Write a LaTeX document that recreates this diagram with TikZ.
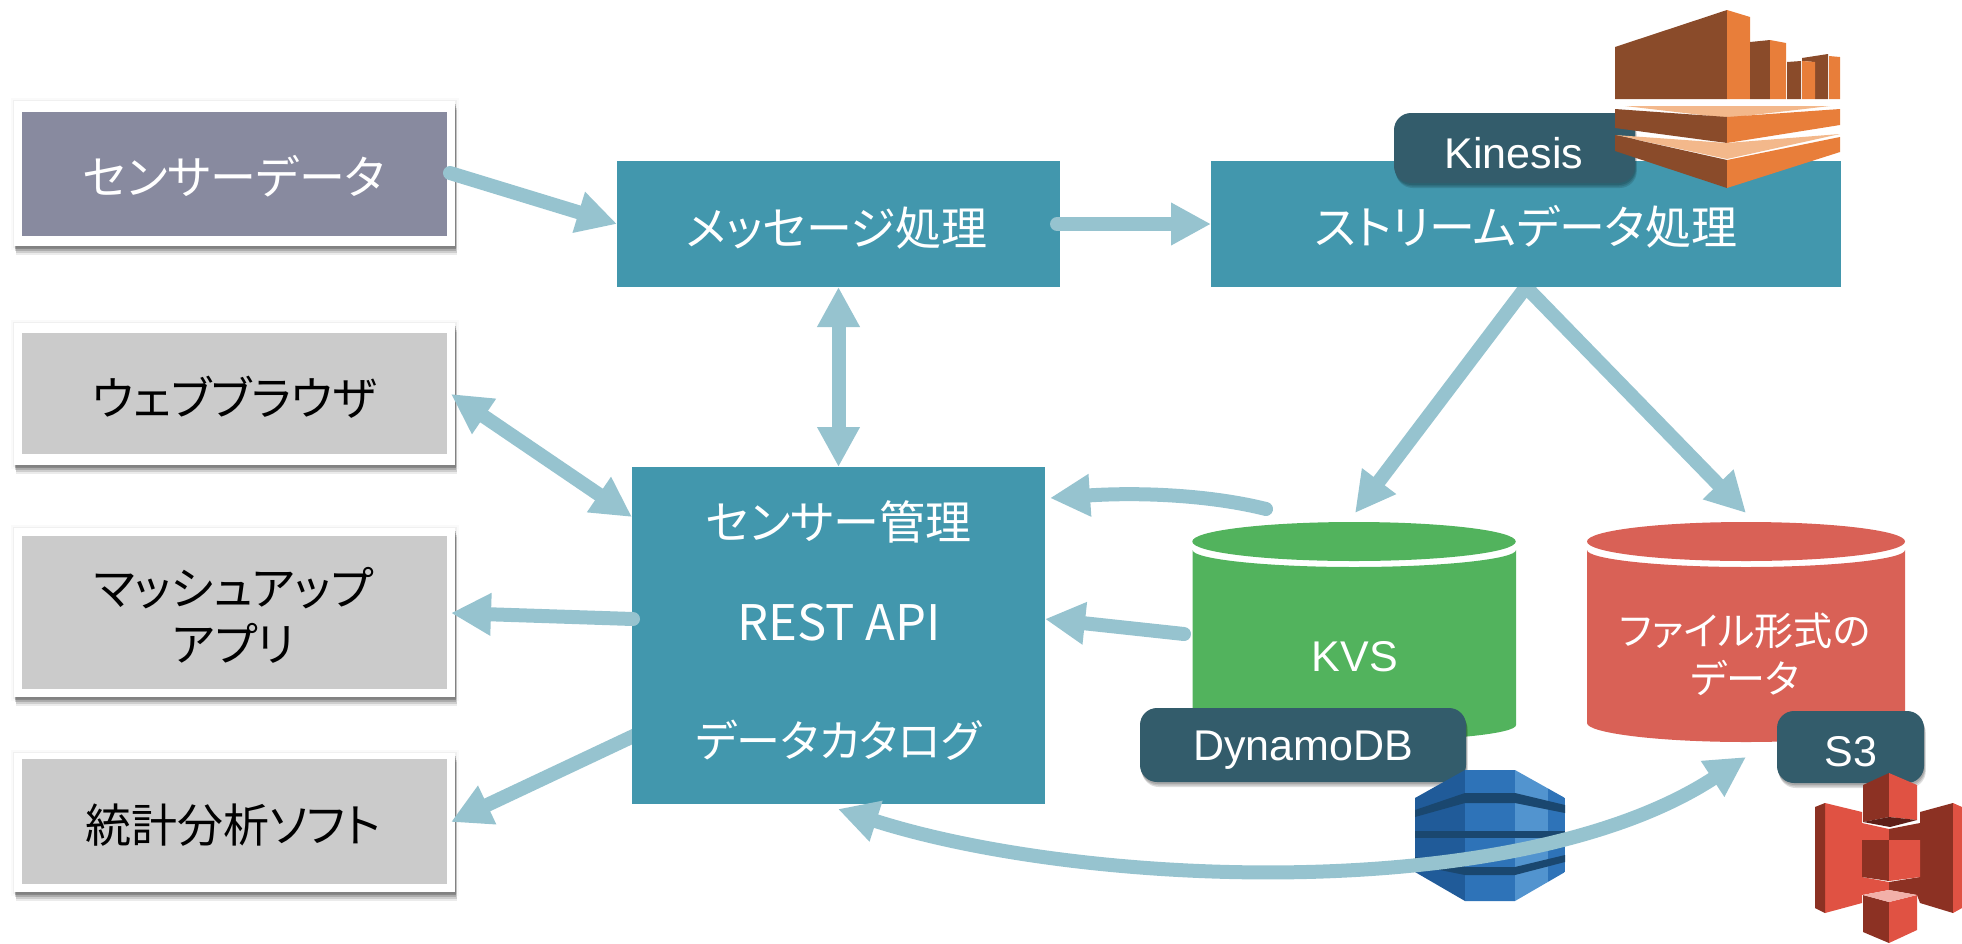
\documentclass[tikz,border=0pt]{standalone}
\usepackage{fontspec}
\setmainfont{Liberation Sans}
\newfontfamily\jpfont{Noto Sans CJK JP}[RawFeature=+palt]
\usetikzlibrary{arrows.meta,shapes.geometric}
\definecolor{tealc}{HTML}{4297AD}
\definecolor{arrowc}{HTML}{96C3CF}
\definecolor{labelc}{HTML}{335C6B}
\definecolor{greyc}{HTML}{CBCBCB}
\definecolor{sensorc}{HTML}{888A9F}
\definecolor{greenc}{HTML}{52B35D}
\definecolor{redc}{HTML}{D96156}
\definecolor{kbrown}{HTML}{8A4B2A}
\definecolor{korange}{HTML}{E87E3A}
\definecolor{klight}{HTML}{F3B88B}
\definecolor{dband}{HTML}{1A476F}
\definecolor{dleft}{HTML}{205B99}
\definecolor{dmid}{HTML}{2E73B8}
\definecolor{dright}{HTML}{5294CF}
\definecolor{sdark}{HTML}{8C3123}
\definecolor{sred}{HTML}{E05243}
\definecolor{sdeep}{HTML}{5E1F18}
\definecolor{slight}{HTML}{F2B0A9}
\pgfdeclarelayer{under}
\pgfsetlayers{under,main}
\tikzset{
  softshadow/.style={
    preaction={fill=black,opacity=.13,transform canvas={xshift=.7pt,yshift=-2pt}},
    preaction={fill=black,opacity=.13,transform canvas={xshift=1.2pt,yshift=-3.5pt}},
    preaction={fill=black,opacity=.13,transform canvas={xshift=1.8pt,yshift=-5pt}}},
  frameshadow/.style={
    preaction={draw=black,fill=black,line width=7pt,opacity=.02},
    preaction={draw=black,fill=black,line width=3pt,opacity=.04},
    preaction={fill=black,opacity=.08,transform canvas={xshift=2pt,yshift=-9pt}},
    preaction={fill=black,opacity=.12,transform canvas={xshift=1.5pt,yshift=-7pt}},
    preaction={fill=black,opacity=.16,transform canvas={xshift=1pt,yshift=-5pt}},
    preaction={fill=black,opacity=.2,transform canvas={xshift=.7pt,yshift=-3pt}}},
  boxbase/.style={rectangle,inner sep=0pt,outer sep=0pt,align=center},
  jptext/.style={inner sep=0pt,align=center,font=\jpfont\fontsize{46}{56}\selectfont},
  framebox/.style={boxbase,fill=white,frameshadow,minimum width=441pt},
  clientbox/.style={boxbase,fill=greyc,minimum width=425pt},
  sourcebox/.style={boxbase,fill=sensorc,minimum width=425pt},
  procbox/.style={boxbase,fill=tealc},
  svclabel/.style={boxbase,fill=labelc,rounded corners=17pt,softshadow},
  svctext/.style={inner sep=0pt,text=white,font=\fontsize{43}{50}\selectfont},
  cyltop/.style={ellipse,inner sep=0pt,outer sep=0pt,minimum height=39pt},
  flow/.style={draw=arrowc,line width=14pt,line cap=round,-{Triangle[length=40pt,width=40pt]}},
  flowboth/.style={draw=arrowc,line width=14pt,{Triangle[length=40pt,width=40pt]}-{Triangle[length=40pt,width=40pt]}},
}
\begin{document}
\begin{tikzpicture}[x=1pt,y=-1pt]
\useasboundingbox (0,0) rectangle (1962,943);
% connector end points
\coordinate (sensorout) at (450,173);
\coordinate (msgout) at (1057,224);
\coordinate (browserin) at (451,394);
\coordinate (mgmtin) at (632,517);
\coordinate (mgmtrest) at (633,619);
\coordinate (mashupin) at (451,613);
\coordinate (mgmtstat) at (642,732);
\coordinate (statsin) at (451,822);
\coordinate (kvstip) at (1355,513);
\coordinate (filetip) at (1746,513);
\coordinate (kvsout1) at (1266,509);
\coordinate (mgmtkvs1) at (1050,498);
\coordinate (kvsout2) at (1184,634);
\coordinate (mgmtkvs2) at (1045,619);
\coordinate (mgmtcat) at (838,809);
\coordinate (filecat) at (1746,757);
% client frames
\node[framebox,minimum height=145pt] (f1) at (234.5,173.5) {};
\node[framebox,minimum height=142pt] (f2) at (234.5,394) {};
\node[framebox,minimum height=169pt] (f3) at (234.5,612.5) {};
\node[framebox,minimum height=139pt] (f4) at (234.5,822.5) {};
\node[sourcebox,minimum height=124pt] (sensor) at (234.5,173.5) {};
\node[clientbox,minimum height=121pt] (browser) at (234.5,393.5) {};
\node[clientbox,minimum height=153pt] (mashup) at (234.5,612.5) {};
\node[clientbox,minimum height=125pt] (stats) at (234.5,821.5) {};
\node[jptext,text=white] (sensortext) at (234,176) {センサーデータ};
\node[jptext,text=black] (browsertext) at (234.5,397) {ウェブブラウザ};
\node[jptext,text=black] (mashuptext) at (233.5,615) {マッシュアップ\\アプリ};
\node[jptext,text=black] (statstext) at (233,825) {統計分析ソフト};
% this connector runs behind the management box
\draw[flow,line cap=butt] (mgmtstat) -- (statsin);
% processing boxes
\node[procbox,minimum width=443pt,minimum height=126pt] (msg) at (838.5,224) {};
\node[jptext,text=white] (msgtext) at (837,228) {メッセージ処理};
\node[procbox,minimum width=630pt,minimum height=126pt] (stream) at (1526,224) {};
\node[jptext,text=white] (streamtext) at (1526,227) {ストリームデータ処理};
\node[procbox,minimum width=413pt,minimum height=337pt] (mgmt) at (838.5,635.5) {};
\node[jptext,text=white] (t1) at (838.5,522) {センサー管理};
\node[jptext,text=white,font=\jpfont\fontsize{49}{56}\selectfont] (t2) at (839,623) {REST API};
\node[jptext,text=white,font=\jpfont\fontsize{44}{56}\selectfont] (t3) at (838.5,740) {データカタログ};
% KVS cylinder
\fill[greenc] (1192.5,550) .. controls (1192.5,559) and (1265,567) .. (1354,567)
  .. controls (1443,567) and (1516,559) .. (1516,550) -- (1516,725)
  .. controls (1516,734) and (1443,741) .. (1354,741)
  .. controls (1265,741) and (1192.5,734) .. (1192.5,725) -- cycle;
\node[cyltop,fill=greenc,minimum width=323.5pt] (kvstop) at (1354,541.5) {};
\node[svctext] (kvs) at (1355,657) {KVS};
% file cylinder
\fill[redc] (1587,550) .. controls (1587,559) and (1658,567) .. (1746,567)
  .. controls (1834,567) and (1905,559) .. (1905,550) -- (1905,723)
  .. controls (1905,733) and (1834,742) .. (1746,742)
  .. controls (1658,742) and (1587,733) .. (1587,723) -- cycle;
\node[cyltop,fill=redc,minimum width=318pt] (filetop) at (1746,541.5) {};
\node[text=white,inner sep=0pt,align=center,font=\jpfont\fontsize{39}{48}\selectfont] (files) at (1745,654) {ファイル形式の\\データ};
% service labels
\node[svclabel,minimum width=241pt,minimum height=70pt] (kinlabel) at (1514.5,148) {};
\node[svctext] (kintext) at (1514,153) {Kinesis};
\node[svclabel,minimum width=326pt,minimum height=74pt] (dynlabel) at (1303,745) {};
\node[svctext] (dyntext) at (1303,750) {DynamoDB};
\node[svclabel,minimum width=147pt,minimum height=72pt] (s3label) at (1850.5,747) {};
\node[svctext] (s3text) at (1851,752) {S3};
% Kinesis icon
\fill[kbrown] (1615,47) -- (1727,10) -- (1727,99) -- (1615,99) -- cycle;
\fill[korange] (1727,10) -- (1750,17) -- (1750,99) -- (1727,99) -- cycle;
\fill[kbrown] (1750,42) -- (1770,40) -- (1770,99) -- (1750,99) -- cycle;
\fill[korange] (1770,40) -- (1786,43) -- (1786,99) -- (1770,99) -- cycle;
\fill[kbrown] (1787,62) -- (1801,61) -- (1801,99) -- (1787,99) -- cycle;
\fill[kbrown] (1802,58) -- (1828,54) -- (1828,99) -- (1815,99) -- (1815,62) -- (1802,61) -- cycle;
\fill[korange] (1802,61) -- (1815,62) -- (1815,99) -- (1802,99) -- cycle;
\fill[korange] (1829,56) -- (1840,57) -- (1840,99) -- (1829,99) -- cycle;
\fill[klight] (1625,106) -- (1830,106) -- (1727,118) -- cycle;
\fill[kbrown] (1615,109) -- (1727,117) -- (1727,143) -- (1615,128) -- cycle;
\fill[korange] (1727,117) -- (1840,109) -- (1840,125) -- (1727,143) -- cycle;
\fill[klight] (1615,135) -- (1727,143) -- (1840,134) -- (1727,159) -- cycle;
\fill[kbrown] (1615,135) -- (1727,160) -- (1727,188) -- (1615,151) -- cycle;
\fill[korange] (1727,160) -- (1840,137) -- (1840,152) -- (1727,188) -- cycle;
% DynamoDB icon
\begin{scope}
\clip (1415,798) -- (1465,770) -- (1515,770) -- (1565,798) -- (1565,872) -- (1515,901) -- (1465,901) -- (1415,872) -- cycle;
\fill[dleft] (1415,765) rectangle (1465,905);
\fill[dmid] (1465,765) rectangle (1515,905);
\fill[dright] (1515,765) rectangle (1548,905);
\fill[dmid] (1548,765) rectangle (1565,905);
\fill[dband] (1415,810) -- (1465,793) -- (1515,793) -- (1565,805) -- (1565,813) -- (1515,803) -- (1465,803) -- (1415,817) -- cycle;
\fill[dband] (1415,831) rectangle (1565,838);
\fill[dband] (1415,857) -- (1465,867) -- (1515,867) -- (1565,855) -- (1565,862) -- (1515,875) -- (1465,875) -- (1415,865) -- cycle;
\end{scope}
% S3 icon
\fill[sred] (1825,803) -- (1862,812) -- (1862,823) -- (1889,829) -- (1889,840) -- (1862,840) -- (1862,877) -- (1889,882) -- (1889,890) -- (1862,895) -- (1862,903) -- (1825,913) -- cycle;
\fill[sdark] (1815,807) -- (1825,803) -- (1825,913) -- (1815,908) -- cycle;
\fill[sdark] (1953,803) -- (1920,812) -- (1920,823) -- (1889,829) -- (1889,840) -- (1920,840) -- (1920,877) -- (1889,882) -- (1889,890) -- (1917,895) -- (1920,903) -- (1953,913) -- cycle;
\fill[sred] (1953,803) -- (1962,807) -- (1962,908) -- (1953,913) -- cycle;
\fill[sdark] (1862,840) -- (1889,840) -- (1889,881) -- (1862,877) -- cycle;
\fill[sred] (1889,840) -- (1920,840) -- (1920,877) -- (1889,881) -- cycle;
\fill[sdark] (1863,785) -- (1889,773) -- (1889,817) -- (1863,822) -- cycle;
\fill[sred] (1889,773) -- (1917,785) -- (1917,820) -- (1889,817) -- cycle;
\fill[sdeep] (1863,822) -- (1889,817) -- (1917,820) -- (1890,827) -- cycle;
\fill[sdark] (1863,895) -- (1889,902) -- (1889,943) -- (1863,932) -- cycle;
\fill[sred] (1889,902) -- (1917,895) -- (1917,930) -- (1889,943) -- cycle;
\fill[slight] (1863,895) -- (1889,890) -- (1917,895) -- (1889,902) -- cycle;
% connectors behind the boxes
\begin{pgfonlayer}{under}
\draw[flow,line cap=butt] (stream.south) -- (kvstip);
\draw[flow,line cap=butt] (stream.south) -- (filetip);
\end{pgfonlayer}
% connectors in front
\draw[flow] (sensorout) -- (msg.west);
\draw[flow] (msgout) -- (stream.west);
\draw[flowboth] (msg.south) -- (mgmt.north);
\draw[flowboth] (browserin) -- (mgmtin);
\draw[flow] (mgmtrest) -- (mashupin);
\draw[flow] (kvsout1) .. controls (1210,495) and (1140,492) .. (mgmtkvs1);
\draw[flow] (kvsout2) -- (mgmtkvs2);
\draw[flowboth] (mgmtcat) .. controls (1085,888) and (1520,905) .. (filecat);
\end{tikzpicture}
\end{document}
